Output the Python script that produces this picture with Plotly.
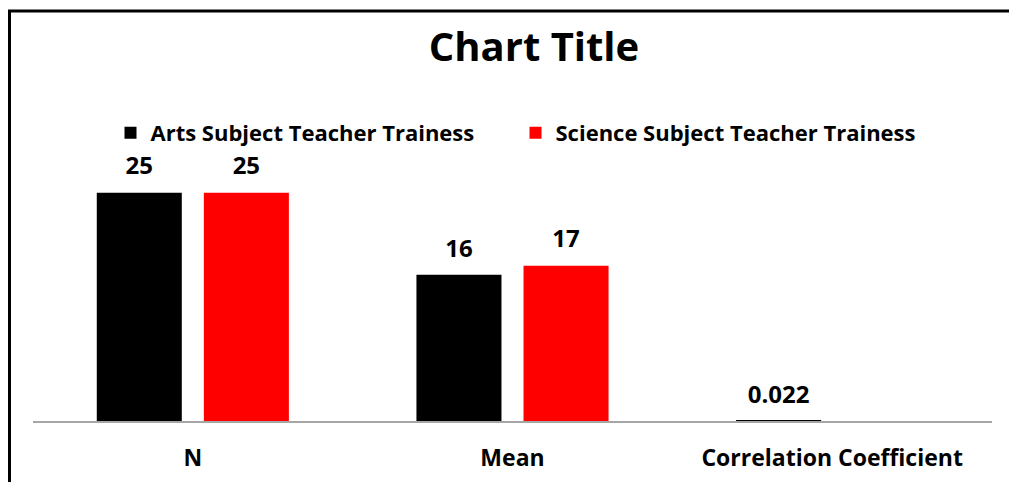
import plotly.graph_objects as go

categories = ["N", "Mean", "Correlation Coefficient"]
arts_values = [25, 16, 0.022]
science_values = [25, 17, None]
arts_labels = ["25", "16", "0.022"]
science_labels = ["25", "17", ""]

FONT = "Open Sans"
LABEL_FONT = dict(family=FONT, size=24, color="#000000", weight="bold")

# page offset of the plot div (browser body margin)
OFF = 8
L, PR, PT, PB = 33 - OFF, 992 - OFF, 147 - OFF, 421 - OFF
W, H = 1017, 482
PW, PH = PR - L, PB - PT

fig = go.Figure()
fig.add_trace(go.Bar(
    x=categories, y=arts_values, name="Arts Subject Teacher Trainess",
    marker=dict(color="#000000", line=dict(width=0)), offsetgroup="a",
))
fig.add_trace(go.Bar(
    x=categories, y=science_values, name="Science Subject Teacher Trainess",
    marker=dict(color="#ff0000", line=dict(width=0)), offsetgroup="s",
))
# data labels
for vals, labels, grp in [(arts_values, arts_labels, "a"), (science_values, science_labels, "s")]:
    fig.add_trace(go.Scatter(
        x=categories, y=vals, text=labels, mode="markers+text",
        textposition="top center", offsetgroup=grp, cliponaxis=False,
        marker=dict(size=18, opacity=0), textfont=LABEL_FONT,
        showlegend=False, hoverinfo="skip",
    ))

fig.update_layout(
    width=W, height=H,
    margin=dict(l=L, r=W - PR, t=PT, b=H - PB),
    paper_bgcolor="white", plot_bgcolor="white",
    barmode="group", bargap=0.33, bargroupgap=0.206,
    scattermode="group", scattergap=0.33,
    font=dict(family=FONT, color="#000000"),
    title=dict(text="Chart Title", x=(534 - OFF) / W, xanchor="center", xref="container",
               y=1 - (47 - OFF) / H, yanchor="middle", yref="container",
               font=dict(family=FONT, size=40, color="#000000", weight="bold")),
    legend=dict(orientation="h", x=(515.5 - OFF - L) / PW, xanchor="center",
                y=1 + (PT - (133 - OFF)) / PH, yanchor="middle",
                font=dict(family=FONT, size=22, color="#000000", weight="bold"),
                itemwidth=30, entrywidth=360, bgcolor="rgba(0,0,0,0)"),
    showlegend=True,
    xaxis=dict(showline=True, linecolor="#a6a6a6", linewidth=1.5, ticks="",
               showgrid=False, ticklabelstandoff=16,
               tickfont=dict(family=FONT, size=23, color="#000000", weight="bold")),
    yaxis=dict(range=[0, 30], visible=False, showgrid=False, zeroline=False),
    shapes=[dict(type="rect", xref="paper", yref="paper",
                 x0=(1.5 - L) / PW, x1=(1012 - OFF - L) / PW,
                 y0=-0.3, y1=1 + (PT - (11 - OFF)) / PH,
                 line=dict(color="#000000", width=3), fillcolor="rgba(0,0,0,0)",
                 layer="below")],
)

fig.write_html("out.html")
